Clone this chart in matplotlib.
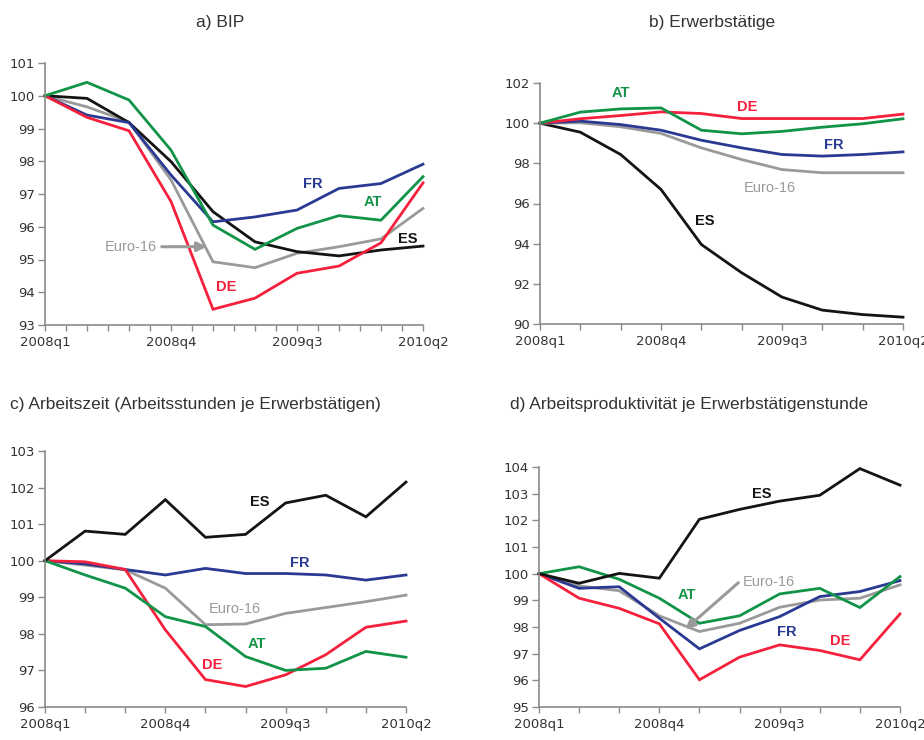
import matplotlib.pyplot as plt

quarters = ["2008q1", "2008q2", "2008q3", "2008q4", "2009q1",
            "2009q2", "2009q3", "2009q4", "2010q1", "2010q2"]
tick_labels = ["2008q1", "2008q4", "2009q3", "2010q2"]

# a) BIP
bip_at = [100, 100.41, 99.87, 98.34, 96.05, 95.31, 95.95, 96.34, 96.2, 97.53]
bip_fr = [100, 99.41, 99.18, 97.58, 96.15, 96.3, 96.51, 97.17, 97.32, 97.91]
bip_de = [100, 99.34, 98.93, 96.77, 93.48, 93.82, 94.58, 94.8, 95.51, 97.34]
bip_es = [100, 99.92, 99.18, 97.99, 96.46, 95.54, 95.24, 95.11, 95.29, 95.41]
bip_eu = [100, 99.66, 99.2, 97.43, 94.93, 94.75, 95.19, 95.39, 95.63, 96.56]

# b) Erwerbstätige
erw_at = [100, 100.55, 100.71, 100.76, 99.65, 99.47, 99.59, 99.8, 99.97, 100.22]
erw_de = [100, 100.22, 100.38, 100.56, 100.48, 100.23, 100.23, 100.23, 100.23, 100.45]
erw_fr = [100, 100.1, 99.93, 99.65, 99.15, 98.77, 98.44, 98.36, 98.44, 98.57]
erw_eu = [100, 100.02, 99.82, 99.49, 98.77, 98.19, 97.69, 97.53, 97.53, 97.53]
erw_es = [100, 99.55, 98.44, 96.7, 93.96, 92.55, 91.34, 90.69, 90.47, 90.34]

# c) Arbeitszeit
az_es = [100, 100.81, 100.72, 101.67, 100.64, 100.72, 101.58, 101.79, 101.2, 102.15]
az_fr = [100, 99.91, 99.76, 99.61, 99.79, 99.65, 99.65, 99.61, 99.47, 99.61]
az_eu = [100, 99.88, 99.75, 99.25, 98.25, 98.27, 98.56, 98.72, 98.88, 99.06]
az_de = [100, 99.97, 99.76, 98.11, 96.75, 96.56, 96.88, 97.43, 98.18, 98.35]
az_at = [100, 99.61, 99.25, 98.47, 98.2, 97.38, 97.0, 97.06, 97.52, 97.36]

# d) Arbeitsproduktivität
ap_es = [100, 99.64, 100.01, 99.83, 102.04, 102.41, 102.72, 102.94, 103.94, 103.32]
ap_at = [100, 100.26, 99.79, 99.08, 98.14, 98.42, 99.24, 99.45, 98.73, 99.89]
ap_fr = [100, 99.45, 99.51, 98.33, 97.18, 97.87, 98.39, 99.14, 99.33, 99.74]
ap_eu = [100, 99.54, 99.36, 98.42, 97.83, 98.14, 98.74, 99.01, 99.08, 99.58]
ap_de = [100, 99.08, 98.7, 98.12, 96.02, 96.87, 97.33, 97.12, 96.77, 98.49]

colors = {"AT": "#119447", "FR": "#2a3a92", "DE": "#f5213c",
          "ES": "#141414", "Euro-16": "#9a9a9a"}

plt.rcParams['font.family'] = ['Liberation Sans', 'DejaVu Sans']

fig = plt.figure(figsize=(9.24, 7.4), dpi=100)
W, H = 924, 740


def make_axes(x0, y0, x1, y1):
    return fig.add_axes([x0 / W, 1 - y1 / H, (x1 - x0) / W, (y1 - y0) / H])


def style(ax, ymin, ymax, step, half_ticks=False):
    x = list(range(len(quarters)))
    ax.set_xlim(0, len(quarters) - 1)
    ax.set_ylim(ymin, ymax)
    ax.set_yticks(range(ymin, ymax + 1, step))
    ax.set_xticks([quarters.index(t) for t in tick_labels])
    ax.set_xticklabels(tick_labels)
    if half_ticks:
        ax.set_xticks([i / 2 for i in range(2 * len(quarters) - 1)], minor=True)
    else:
        ax.set_xticks(x, minor=True)
    for s in ["top", "right"]:
        ax.spines[s].set_visible(False)
    for s in ["left", "bottom"]:
        ax.spines[s].set_color("#8a8a8a")
        ax.spines[s].set_linewidth(1.2)
    ax.tick_params(axis="both", which="both", color="#8a8a8a", width=1.0,
                   labelsize=9.5, labelcolor="#333333", direction="out")
    ax.tick_params(axis="y", length=5, pad=2)
    ax.tick_params(axis="x", which="both", length=4, pad=4)
    for lab in ax.get_xticklabels() + ax.get_yticklabels():
        lab.set_family("DejaVu Sans")


def draw(ax, series):
    for name, vals in series:
        ax.plot(range(len(quarters)), vals, color=colors[name], lw=2.0,
                solid_joinstyle="miter", clip_on=False)


def label(ax, name, x, y):
    ax.text(x, y, name, color=colors[name], fontsize=10.5, ha="center",
            va="center", fontweight="bold" if name != "Euro-16" else "normal")


def arrow(ax, start, end):
    ax.annotate("", xy=end, xytext=start,
                arrowprops=dict(arrowstyle="-|>", color=colors["Euro-16"],
                                lw=2.2, mutation_scale=14, shrinkA=0,
                                shrinkB=0))


# a) BIP
ax = make_axes(45, 63, 423, 325)
style(ax, 93, 101, 1, half_ticks=True)
draw(ax, [("Euro-16", bip_eu), ("ES", bip_es), ("FR", bip_fr),
          ("DE", bip_de), ("AT", bip_at)])
label(ax, "FR", 6.38, 97.32)
label(ax, "AT", 7.81, 96.76)
label(ax, "ES", 8.64, 95.63)
label(ax, "DE", 4.32, 94.15)
label(ax, "Euro-16", 2.05, 95.39)
arrow(ax, (2.78, 95.39), (3.85, 95.39))
fig.text(220 / W, 1 - 22 / H, "a) BIP", fontsize=12.5, color="#333333",
         ha="center", va="center")

# b) Erwerbstätige
ax = make_axes(540, 83, 903, 324)
style(ax, 90, 102, 2)
draw(ax, [("ES", erw_es), ("Euro-16", erw_eu), ("FR", erw_fr),
          ("DE", erw_de), ("AT", erw_at)])
label(ax, "AT", 2.01, 101.51)
label(ax, "DE", 5.13, 100.8)
label(ax, "FR", 7.28, 98.89)
label(ax, "Euro-16", 5.71, 96.78)
label(ax, "ES", 4.09, 95.12)
fig.text(712 / W, 1 - 22 / H, "b) Erwerbstätige", fontsize=12.5,
         color="#333333", ha="center", va="center")

# c) Arbeitszeit
ax = make_axes(45, 451, 406, 707)
style(ax, 96, 103, 1)
draw(ax, [("Euro-16", az_eu), ("FR", az_fr), ("DE", az_de),
          ("AT", az_at), ("ES", az_es)])
label(ax, "ES", 5.36, 101.61)
label(ax, "FR", 6.36, 99.95)
label(ax, "Euro-16", 4.74, 98.67)
label(ax, "AT", 5.28, 97.73)
label(ax, "DE", 4.16, 97.14)
fig.text(10 / W, 1 - 405 / H,
         "c) Arbeitszeit (Arbeitsstunden je Erwerbstätigen)", fontsize=12.5,
         color="#333333", ha="left", va="center")

# d) Arbeitsproduktivität
ax = make_axes(539, 467, 900, 707)
style(ax, 95, 104, 1)
draw(ax, [("Euro-16", ap_eu), ("FR", ap_fr), ("DE", ap_de),
          ("AT", ap_at), ("ES", ap_es)])
label(ax, "ES", 5.55, 102.98)
label(ax, "AT", 3.68, 99.2)
label(ax, "FR", 6.18, 97.83)
label(ax, "DE", 7.51, 97.49)
label(ax, "Euro-16", 5.72, 99.7)
arrow(ax, (4.97, 99.66), (3.65, 97.92))
fig.text(510 / W, 1 - 405 / H,
         "d) Arbeitsproduktivität je Erwerbstätigenstunde", fontsize=12.5,
         color="#333333", ha="left", va="center")

fig.savefig("out.png", dpi=100)
